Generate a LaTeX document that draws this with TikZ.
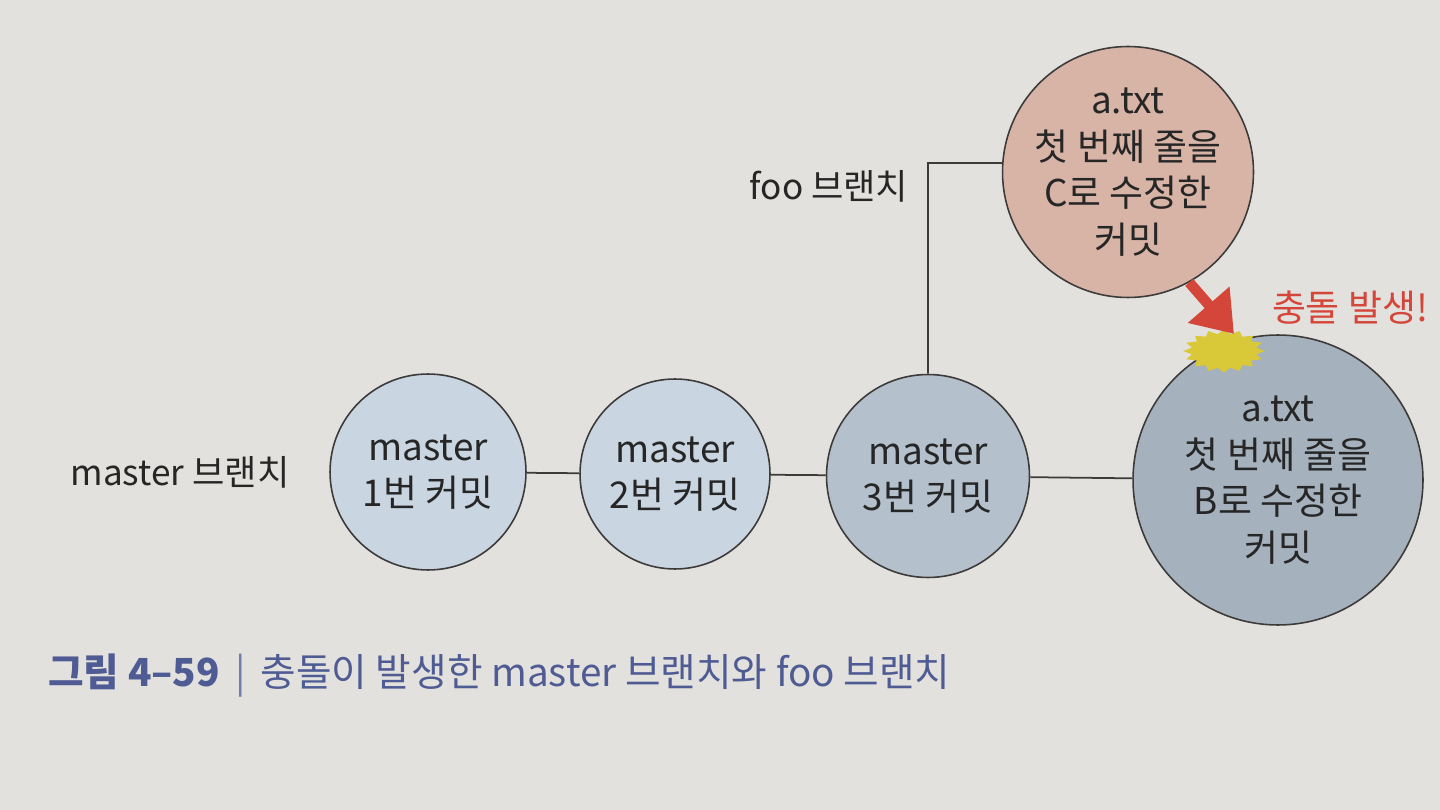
\documentclass[tikz,border=0pt]{standalone}
\usepackage{fontspec}
\setmainfont{Noto Sans CJK KR}
\usetikzlibrary{arrows.meta,shapes.geometric}
\definecolor{paper}{HTML}{E3E1DD}
\definecolor{commitblue}{HTML}{C9D5E0}
\definecolor{commitmid}{HTML}{B4C1CD}
\definecolor{commitdark}{HTML}{A5B1BC}
\definecolor{foopink}{HTML}{D8B4A7}
\definecolor{edgegray}{HTML}{3C3B3A}
\definecolor{alertred}{HTML}{D5463A}
\definecolor{burstyellow}{HTML}{D9C838}
\definecolor{captionblue}{HTML}{4F5C94}

\tikzset{
  commit/.style={circle, draw=edgegray, line width=0.9pt, align=center,
    text=black!85, font=\fontsize{21}{26.5}\selectfont, inner sep=0pt},
  branchlabel/.style={text=black!85, font=\fontsize{20}{24}\selectfont},
  link/.style={draw=edgegray, line width=1pt}
}

\begin{document}
\begin{tikzpicture}[x=0.02cm, y=-0.02cm]
        % fill background
        \fill [paper] (0, 0) rectangle (1440, 810);
        \useasboundingbox (0, 0) rectangle (1440, 810);

        % master commits
        \node [commit, fill=commitblue, minimum size=3.92cm] (m1) at (428, 472)
            {master\\1번 커밋};
        \node [commit, fill=commitblue, minimum size=3.8cm] (m2) at (675, 474)
            {master\\2번 커밋};
        \node [commit, fill=commitmid, minimum size=4.06cm] (m3) at (928, 476)
            {master\\3번 커밋};
        \node [commit, fill=commitdark, minimum size=5.8cm] (mB) at (1278, 480)
            {a.txt\\첫 번째 줄을\\B로 수정한\\커밋};

        % foo commit
        \node [commit, fill=foopink, minimum size=4.8cm] (fC) at (1128, 172)
            {a.txt\\첫 번째 줄을\\C로 수정한\\커밋};

        \draw [link] (m1) -- (m2);
        \draw [link] (m2) -- (m3);
        \draw [link] (m3) -- (mB);
        \draw [link] (m3.north) |- (fC.west |- 0, 163) -- (fC);

        \node [branchlabel] (mlabel) at (180, 472) {master 브랜치};
        \node [branchlabel] (flabel) at (829, 186) {foo 브랜치};

        % conflict
        \node [star, star points=16, star point ratio=1.25, fill=burstyellow,
            minimum size=0.86cm, inner sep=0pt, xscale=1.9, transform shape]
            (burst) at (1224, 351) {};
        \draw [alertred, line width=6pt,
            -{Triangle[width=30pt, length=22pt]}]
            (fC.-61) -- ([xshift=0.2cm, yshift=-0.1cm]burst.north);
        \node [text=alertred, font=\fontsize{21}{24}\selectfont]
            (conflict) at (1350, 308) {충돌 발생!};

        % caption
        \node [anchor=west, text=captionblue, font=\fontsize{22}{26}\selectfont]
            (caption) at (42, 676)
            {\textbf{그림 4–59} \,{\color{captionblue!80}|}\, 충돌이 발생한 master 브랜치와 foo 브랜치};
    \end{tikzpicture}
\end{document}
